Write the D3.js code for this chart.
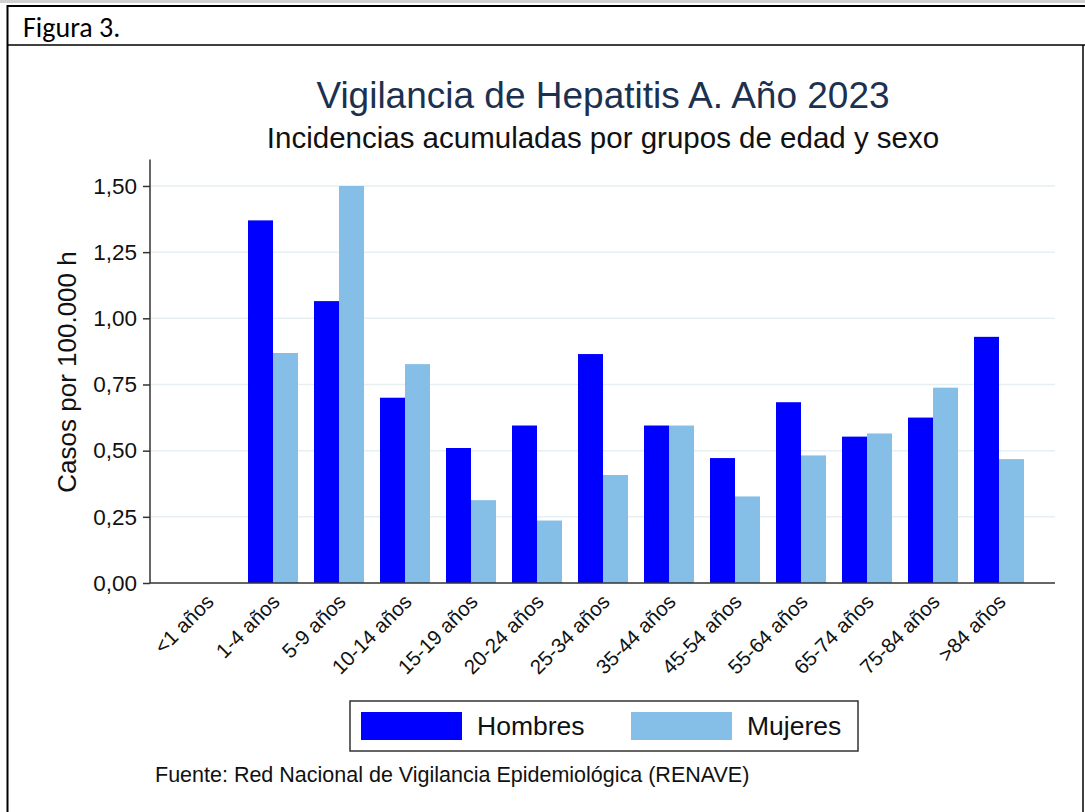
<!DOCTYPE html>
<html>
<head>
<meta charset="utf-8">
<script src="https://cdn.jsdelivr.net/npm/d3@7"></script>
<style>
  body { margin: 0; background: #fff; }
  svg { display: block; }
</style>
</head>
<body>
<script>
// data
const grupos = ["<1 años", "1-4 años", "5-9 años", "10-14 años", "15-19 años", "20-24 años",
  "25-34 años", "35-44 años", "45-54 años", "55-64 años", "65-74 años", "75-84 años", ">84 años"];
const hombres = [0, 1.37, 1.065, 0.70, 0.51, 0.595, 0.865, 0.595, 0.472, 0.683, 0.553, 0.625, 0.93];
const mujeres = [0, 0.869, 1.50, 0.827, 0.313, 0.236, 0.408, 0.595, 0.327, 0.482, 0.565, 0.738, 0.468];
const series = ["Hombres", "Mujeres"];
const colores = ["#0000ff", "#85bfe8"];
const yTicks = [0, 0.25, 0.5, 0.75, 1, 1.25, 1.5];

const width = 1085, height = 812;
const font = "Liberation Sans, Arial, sans-serif";

const svg = d3.select("body").append("svg")
  .attr("width", width)
  .attr("height", height);

// page frame around the figure
svg.append("line").attr("x1", 0).attr("x2", width).attr("y1", 1.5).attr("y2", 1.5)
  .attr("stroke", "#d0d0d0").attr("stroke-width", 3);
svg.append("line").attr("x1", 7).attr("x2", width).attr("y1", 6).attr("y2", 6)
  .attr("stroke", "#000").attr("stroke-width", 2);
svg.append("line").attr("x1", 7).attr("x2", width).attr("y1", 45).attr("y2", 45)
  .attr("stroke", "#000").attr("stroke-width", 1.5);
svg.append("line").attr("x1", 7.5).attr("x2", 7.5).attr("y1", 5).attr("y2", height)
  .attr("stroke", "#000").attr("stroke-width", 2);
svg.append("line").attr("x1", 1083).attr("x2", 1083).attr("y1", 45).attr("y2", height)
  .attr("stroke", "#000").attr("stroke-width", 1.5);
svg.append("text").attr("x", 23).attr("y", 37)
  .style("font-family", "Carlito, Lato, sans-serif").style("font-size", "28px")
  .text("Figura 3.");

// titles
svg.append("text").attr("x", 603).attr("y", 108).attr("text-anchor", "middle")
  .style("font-family", font).style("font-size", "37px").attr("fill", "#1c3150")
  .text("Vigilancia de Hepatitis A. Año 2023");
svg.append("text").attr("x", 603).attr("y", 148).attr("text-anchor", "middle")
  .style("font-family", font).style("font-size", "29.5px").attr("fill", "#111")
  .text("Incidencias acumuladas por grupos de edad y sexo");

// scales
const x0 = d3.scaleBand().domain(grupos).range([174, 1032]).paddingInner(0.2424).paddingOuter(0.1212);
const x1 = d3.scaleBand().domain(series).range([0, x0.bandwidth()]);
const y = d3.scaleLinear().domain([0, 1.6]).range([583, 159.5]);

// grid
svg.append("g").selectAll("line").data(yTicks.slice(1)).join("line")
  .attr("x1", 150).attr("x2", 1055)
  .attr("y1", d => y(d)).attr("y2", d => y(d))
  .attr("stroke", "#e6eff1").attr("stroke-width", 1.5);

// bars
const rows = grupos.map((g, i) => ({ g, vals: [hombres[i], mujeres[i]] }));
svg.append("g").selectAll("g").data(rows).join("g")
  .attr("transform", d => `translate(${x0(d.g)},0)`)
  .selectAll("rect").data(d => d.vals.map((v, j) => ({ s: series[j], v, c: colores[j] })))
  .join("rect")
  .attr("x", d => x1(d.s))
  .attr("y", d => y(d.v))
  .attr("width", x1.bandwidth())
  .attr("height", d => y(0) - y(d.v))
  .attr("fill", d => d.c);

// y axis
const yAxis = svg.append("g").attr("transform", "translate(150,0)")
  .call(d3.axisLeft(y).tickValues(yTicks).tickSize(7).tickPadding(6)
    .tickFormat(d => d3.format(".2f")(d).replace(".", ",")));
yAxis.select(".domain").attr("stroke", "#333").attr("stroke-width", 1.5).attr("d", "M0,159.5V583");
yAxis.selectAll(".tick line").attr("stroke", "#333").attr("stroke-width", 1.5);
yAxis.selectAll("text").style("font-family", font).style("font-size", "22.5px").attr("fill", "#111");

svg.append("text")
  .attr("transform", "translate(76,372) rotate(-90)")
  .attr("text-anchor", "middle")
  .style("font-family", font).style("font-size", "26px").attr("fill", "#111")
  .text("Casos por 100.000 h");

// x axis
const xAxis = svg.append("g").attr("transform", "translate(0,583)")
  .call(d3.axisBottom(x0).tickSize(0).tickPadding(0));
xAxis.select(".domain").attr("stroke", "#333").attr("stroke-width", 1.5).attr("d", "M150,0H1055");
xAxis.selectAll("text")
  .style("font-family", font).style("font-size", "20.5px").attr("fill", "#111")
  .attr("text-anchor", "end")
  .attr("dy", "0")
  .attr("transform", "translate(8,20) rotate(-45)");

// legend
const leg = svg.append("g");
leg.append("rect").attr("x", 350).attr("y", 701).attr("width", 508).attr("height", 50)
  .attr("fill", "#fff").attr("stroke", "#333").attr("stroke-width", 1.5);
const legX = [361, 631];
series.forEach((s, i) => {
  leg.append("rect").attr("x", legX[i]).attr("y", 712).attr("width", 101).attr("height", 28)
    .attr("fill", colores[i]);
  leg.append("text").attr("x", legX[i] + 116).attr("y", 735)
    .style("font-family", font).style("font-size", "26.5px").attr("fill", "#111")
    .text(s);
});

svg.append("text").attr("x", 155).attr("y", 782)
  .style("font-family", font).style("font-size", "21.5px").attr("fill", "#111")
  .text("Fuente: Red Nacional de Vigilancia Epidemiológica (RENAVE)");
</script>
</body>
</html>
